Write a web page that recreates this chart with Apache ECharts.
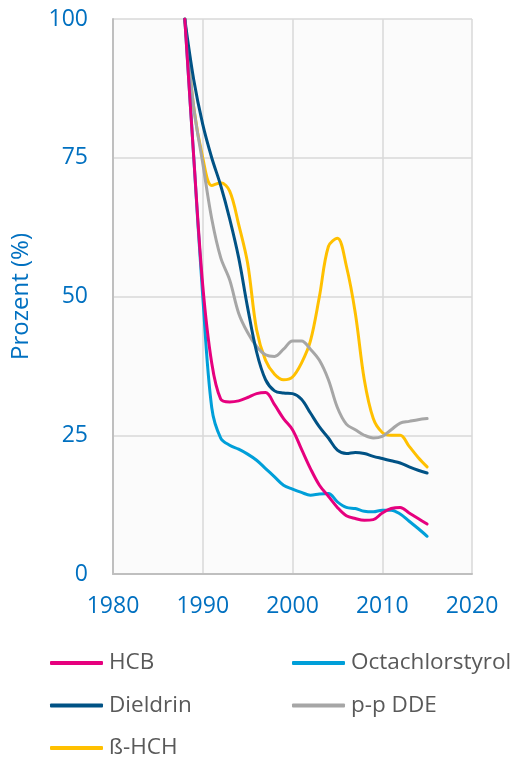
<!DOCTYPE html>
<html>
<head>
<meta charset="utf-8">
<script src="https://cdn.jsdelivr.net/npm/echarts@6/dist/echarts.min.js"></script>
<style>html,body{margin:0;padding:0;background:#fff}#c{width:517px;height:760px}</style>
</head>
<body>
<div id="c"></div>
<script>
const years = [1988,1989,1990,1991,1992,1993,1994,1995,1996,1997,1998,1999,2000,2001,2002,2003,2004,2005,2006,2007,2008,2009,2010,2011,2012,2013,2014,2015];
const hcb = [100,75,52,38,31.5,31,31.2,31.8,32.5,32.7,30.5,28,26,22.5,19,16,14,12,10.5,10,9.7,9.8,11,11.8,12,11,10,9];
const octachlorstyrol = [100,75,50,30,24.5,23.2,22.5,21.6,20.5,19,17.5,16,15.3,14.7,14.2,14.4,14.5,13,12,11.8,11.3,11.2,11.5,11.5,10.8,9.5,8.2,6.8];
const dieldrin = [100,89,81,75,70,64,57,48,40,35,33,32.6,32.5,31.5,29,26.5,24.5,22.3,21.7,21.9,21.7,21.2,20.8,20.4,20,19.3,18.7,18.2];
const ppDDE = [100,84,74,64,57,53,47,43.5,41,39.5,39.2,40.5,42,42,40.5,38.5,35,30,27,26,25,24.5,24.8,26,27.2,27.5,27.8,28];
const betaHCH = [100,84,75,70,70.5,69,63,56,44,38.5,36,35,35.5,38,42,50,59,60.5,55.5,47,35,28,25.5,25,25,23,21,19.3];
const xTicks = [1980,1990,2000,2010,2020];
const yTicks = [0,25,50,75,100];

const names = ['HCB','Octachlorstyrol','Dieldrin','p-p DDE','ß-HCH'];
const colors = ['#e6007e','#009fd9','#005285','#a6a6a6','#ffc000'];
const values = [hcb, octachlorstyrol, dieldrin, ppDDE, betaHCH];

const font = 'Open Sans';
const series = names.map((n,i)=>({
  name:n, type:'line', smooth:0.35, showSymbol:false, symbol:'none',
  data: years.map((y,j)=>[y, values[i][j]]),
  lineStyle:{width:3, color:colors[i], cap:'round', join:'round'},
  itemStyle:{color:colors[i]},
  z: 10 - i
}));

const legendCommon = {
  orient:'vertical', icon:'roundRect', itemWidth:53, itemHeight:4, itemGap:18.5,
  textStyle:{fontFamily:font, fontSize:22.5, color:'#595959', lineHeight:24, padding:[0,0,0,1]},
  padding:0
};

const chart = echarts.init(document.getElementById('c'), null, {renderer:'canvas'});
chart.setOption({
  animation:false,
  backgroundColor:'#ffffff',
  grid:{left:113, right:45, top:19, bottom:186, show:true, backgroundColor:'#fbfbfb', borderWidth:0},
  xAxis:{
    type:'value', min:1980, max:2020, interval:10,
    axisLine:{show:true, onZero:false, lineStyle:{color:'#bfbfbf', width:2}},
    axisTick:{show:false},
    splitLine:{show:true, lineStyle:{color:'#d9d9d9', width:1.5}},
    axisLabel:{color:'#0070c0', fontFamily:font, fontSize:23, margin:21,
      formatter:v=> xTicks.includes(v) ? String(v) : ''}
  },
  yAxis:{
    type:'value', min:0, max:100, interval:25,
    name:'Prozent (%)', nameLocation:'middle', nameGap:80, nameRotate:90,
    nameTextStyle:{color:'#0070c0', fontFamily:font, fontSize:24},
    axisLine:{show:true, lineStyle:{color:'#bfbfbf', width:2}},
    axisTick:{show:false},
    splitLine:{show:true, lineStyle:{color:'#d9d9d9', width:1.5}},
    axisLabel:{color:'#0070c0', fontFamily:font, fontSize:23, margin:25,
      formatter:v=> yTicks.includes(v) ? String(v) : ''}
  },
  legend:[
    Object.assign({}, legendCommon, {left:50, top:651, data:['HCB','Dieldrin','ß-HCH']}),
    Object.assign({}, legendCommon, {left:292, top:651, data:['Octachlorstyrol','p-p DDE']})
  ],
  series: series
});
</script>
</body>
</html>
